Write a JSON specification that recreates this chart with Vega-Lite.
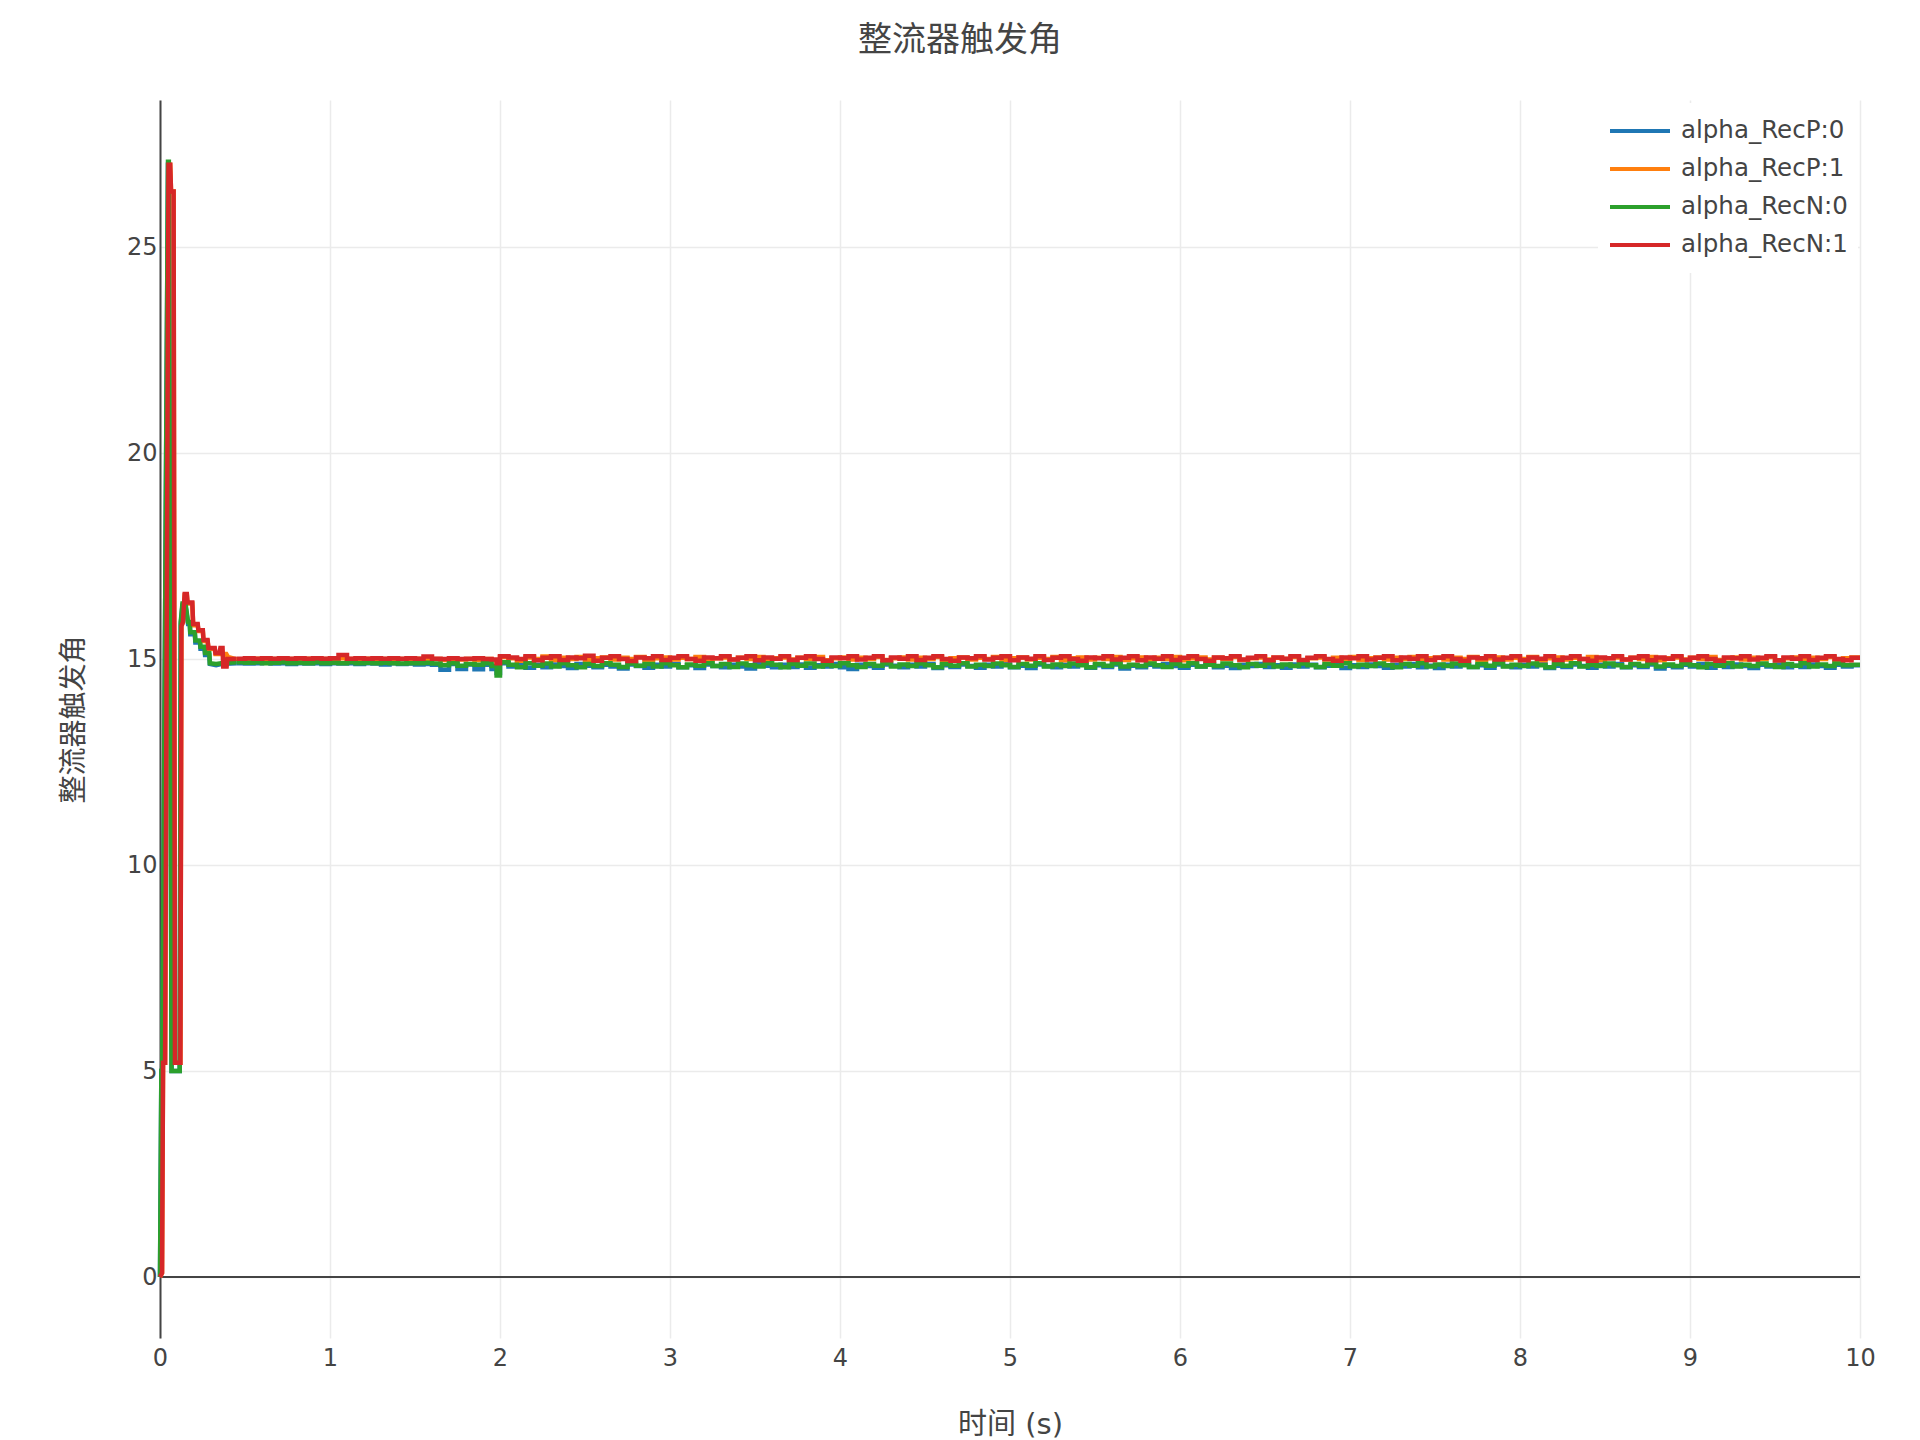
{
"$schema": "https://vega.github.io/schema/vega-lite/v6.json",
"width": 1700, "height": 1238,
"autosize": {"type": "none"},
"padding": {"left": 160, "top": 100, "right": 60, "bottom": 102},
"background": "white",
"title": {"text": "整流器触发角", "font": "Noto Sans CJK SC", "fontSize": 34, "fontWeight": "normal", "color": "#444", "anchor": "middle", "frame": "group", "dx": -50, "offset": 42},
"config": {"view": {"stroke": null}},
"layer": [
{"data": {"values": [{"z": 0}]},
 "mark": {"type": "rule", "color": "#444", "strokeWidth": 2},
 "encoding": {"y": {"field": "z", "type": "quantitative"}}},
{"encoding": {
  "x": {"field": "t", "type": "quantitative", "scale": {"domain": [0, 10], "nice": false},
        "axis": {"values": [0,1,2,3,4,5,6,7,8,9,10], "grid": true, "gridColor": "#ebebeb", "gridWidth": 1.5, "domain": false, "ticks": false, "labelFlush": false, "labelOverlap": false, "labelFont": "DejaVu Sans", "labelFontSize": 24, "labelColor": "#444", "labelPadding": 8, "title": "时间 (s)", "titleFont": "DejaVu Sans, Noto Sans CJK SC", "titleFontSize": 29, "titleFontWeight": "normal", "titleColor": "#444", "titlePadding": 40}},
  "y": {"field": "v", "type": "quantitative", "scale": {"domain": [-1.48, 28.57], "nice": false, "zero": false},
        "axis": {"values": [0,5,10,15,20,25], "grid": true, "gridColor": "#ebebeb", "gridWidth": 1.5, "domain": true, "domainColor": "#444", "domainWidth": 2, "ticks": false, "labelFont": "DejaVu Sans", "labelFontSize": 24, "labelColor": "#444", "labelPadding": 3, "title": "整流器触发角", "titleFont": "Noto Sans CJK SC", "titleFontSize": 28, "titleFontWeight": "normal", "titleColor": "#444", "titlePadding": 38}},
  "color": {"field": "series", "type": "nominal", "scale": {"domain": ["P0", "P1", "N0", "N1"], "range": ["#1f77b4", "#ff7f0e", "#2ca02c", "#d62728"]},
        "legend": {"orient": "none", "legendX": 1438, "legendY": 3, "title": null, "fillColor": "white", "padding": 10, "symbolType": "stroke", "symbolSize": 3600, "symbolStrokeWidth": 4, "labelFont": "DejaVu Sans", "labelFontSize": 24.5, "labelColor": "#444", "labelOffset": 9, "labelLimit": 400, "clipHeight": 36, "rowPadding": 2, "labelExpr": "'alpha_Rec' + slice(datum.label, 0, 1) + ':' + slice(datum.label, 1)"}}
 },
 "layer": [
 {"data": {"values": [
{"t":0,"P0":0,"P1":0,"N0":0,"N1":0},
{"t":0.008,"P0":5,"N0":5},
{"t":0.012,"P1":0.1,"N1":0.1},
{"t":0.013,"P0":5,"N0":5},
{"t":0.018,"P1":5.2,"N1":5.2},
{"t":0.03,"P1":5.2,"N1":5.2},
{"t":0.047,"P0":27.0,"N0":27.07},
{"t":0.05,"P1":27.0,"N1":27.0},
{"t":0.052,"P0":27.0,"N0":27.07},
{"t":0.06,"P1":27.0,"N1":27.0},
{"t":0.065,"P1":26.35,"N1":26.35},
{"t":0.068,"P0":5,"N0":5},
{"t":0.08,"P1":26.35,"N1":26.35},
{"t":0.088,"P1":5.2,"N1":5.2},
{"t":0.116,"P0":5,"N0":5},
{"t":0.12,"P1":5.2,"N1":5.2},
{"t":0.122,"P0":15.85,"N0":15.9},
{"t":0.126,"P1":15.8,"N1":15.8},
{"t":0.132,"P0":16.3,"N0":16.35},
{"t":0.135,"P1":15.9,"N1":15.9},
{"t":0.145,"P1":16.55,"N1":16.58},
{"t":0.15,"P0":16.3,"N0":16.35},
{"t":0.158,"P1":16.55,"N1":16.58},
{"t":0.162,"P1":16.35,"N1":16.37},
{"t":0.165,"P0":15.85,"N0":15.9},
{"t":0.175,"P0":15.85,"N0":15.9},
{"t":0.178,"P0":15.6,"N0":15.65},
{"t":0.19,"P0":15.6,"P1":16.35,"N0":15.65,"N1":16.37},
{"t":0.195,"P1":15.82,"N1":15.85},
{"t":0.205,"P0":15.6,"N0":15.65},
{"t":0.208,"P0":15.4,"N0":15.45},
{"t":0.222,"P1":15.82,"N1":15.85},
{"t":0.226,"P1":15.68,"N1":15.7},
{"t":0.235,"P0":15.4,"N0":15.45},
{"t":0.238,"P0":15.25,"N0":15.3},
{"t":0.252,"P1":15.68,"N1":15.7},
{"t":0.256,"P1":15.44,"N1":15.46},
{"t":0.262,"P0":15.25,"N0":15.3},
{"t":0.265,"P0":15.1,"N0":15.15},
{"t":0.28,"P1":15.44,"N1":15.46},
{"t":0.285,"P1":15.25,"N1":15.27},
{"t":0.29,"P0":15.1,"N0":15.15},
{"t":0.293,"P0":14.88,"N0":14.9},
{"t":0.322,"P1":15.25,"N1":15.27},
{"t":0.326,"P1":15.12,"N1":15.15},
{"t":0.33,"P0":14.85,"N0":14.88},
{"t":0.35,"N1":15.15},
{"t":0.355,"N1":15.27},
{"t":0.36,"P0":14.88,"N0":14.9},
{"t":0.368,"N1":15.27},
{"t":0.37,"P1":15.12},
{"t":0.372,"N1":14.82},
{"t":0.39,"P1":15.12},
{"t":0.392,"N1":14.82},
{"t":0.396,"N1":15.0},
{"t":0.4,"P1":15.05},
{"t":0.42,"N1":15.0},
{"t":0.45,"P0":14.9,"P1":14.99,"N0":14.92,"N1":15.01}
 ]},
  "transform": [{"fold": ["P0", "P1", "N0", "N1"], "as": ["series", "v"]}, {"filter": "isValid(datum.v)"}],
  "mark": {"type": "line", "strokeWidth": 4.5}},
 {"data": {"values": [
{"t":0.45,"P0":14.9,"P1":14.99,"N0":14.92,"N1":15.01},
{"t":0.5,"P0":14.89,"P1":15.0,"N0":14.91,"N1":15.02},
{"t":0.55,"P0":14.9,"P1":15.01,"N0":14.92,"N1":15.01},
{"t":0.6,"P0":14.91,"P1":15.0,"N0":14.9,"N1":15.02},
{"t":0.65,"P0":14.89,"P1":15.0,"N0":14.91,"N1":15.01},
{"t":0.7,"P0":14.9,"P1":15.01,"N0":14.92,"N1":15.02},
{"t":0.75,"P0":14.88,"P1":15.0,"N0":14.9,"N1":15.01},
{"t":0.8,"P0":14.9,"P1":15.0,"N0":14.91,"N1":15.02},
{"t":0.85,"P0":14.89,"P1":15.01,"N0":14.9,"N1":15.01},
{"t":0.9,"P0":14.9,"P1":15.0,"N0":14.92,"N1":15.02},
{"t":0.95,"P0":14.88,"P1":15.0,"N0":14.9,"N1":15.01},
{"t":1.0,"P0":14.9,"P1":15.01,"N0":14.91,"N1":15.02},
{"t":1.05,"P0":14.89,"P1":15.02,"N0":14.9,"N1":15.1},
{"t":1.1,"P0":14.9,"P1":15.0,"N0":14.92,"N1":15.01},
{"t":1.15,"P0":14.88,"P1":15.0,"N0":14.9,"N1":15.02},
{"t":1.2,"P0":14.9,"P1":15.01,"N0":14.91,"N1":15.01},
{"t":1.25,"P0":14.89,"P1":15.0,"N0":14.9,"N1":15.02},
{"t":1.3,"P0":14.87,"P1":15.0,"N0":14.91,"N1":15.01},
{"t":1.35,"P0":14.9,"P1":15.01,"N0":14.9,"N1":15.02},
{"t":1.4,"P0":14.88,"P1":15.0,"N0":14.89,"N1":15.01},
{"t":1.45,"P0":14.89,"P1":15.0,"N0":14.9,"N1":15.02},
{"t":1.5,"P0":14.87,"P1":15.01,"N0":14.9,"N1":15.01},
{"t":1.55,"P0":14.88,"P1":15.0,"N0":14.91,"N1":15.06},
{"t":1.6,"P0":14.86,"P1":15.0,"N0":14.89,"N1":15.01},
{"t":1.65,"P0":14.74,"P1":14.98,"N0":14.85,"N1":15.0},
{"t":1.7,"P0":14.88,"P1":15.0,"N0":14.9,"N1":15.02},
{"t":1.75,"P0":14.76,"P1":14.99,"N0":14.84,"N1":15.0},
{"t":1.8,"P0":14.87,"P1":15.0,"N0":14.88,"N1":15.01},
{"t":1.85,"P0":14.75,"P1":14.98,"N0":14.86,"N1":15.02},
{"t":1.9,"P0":14.86,"P1":15.0,"N0":14.9,"N1":15.0},
{"t":1.95,"P0":14.76,"P1":14.97,"N0":14.83,"N1":14.99},
{"t":1.98,"P0":14.66,"P1":14.92,"N0":14.6,"N1":14.9},
{"t":2.0,"P0":14.9,"P1":15.05,"N0":14.92,"N1":15.07},
{"t":2.05,"P0":14.82,"P1":15.02,"N0":14.86,"N1":15.04},
{"t":2.1,"P0":14.88,"P1":14.96,"N0":14.8,"N1":15.0},
{"t":2.15,"P0":14.79,"P1":15.04,"N0":14.9,"N1":15.07},
{"t":2.2,"P0":14.86,"P1":15.0,"N0":14.84,"N1":14.97},
{"t":2.25,"P0":14.8,"P1":15.06,"N0":14.89,"N1":15.03},
{"t":2.3,"P0":14.87,"P1":14.98,"N0":14.82,"N1":15.07},
{"t":2.35,"P0":14.83,"P1":15.03,"N0":14.9,"N1":14.98},
{"t":2.4,"P0":14.78,"P1":15.0,"N0":14.85,"N1":15.04},
{"t":2.45,"P0":14.88,"P1":15.05,"N0":14.8,"N1":15.02},
{"t":2.5,"P0":14.84,"P1":14.97,"N0":14.88,"N1":15.08},
{"t":2.55,"P0":14.8,"P1":15.02,"N0":14.83,"N1":14.96},
{"t":2.6,"P0":14.86,"P1":15.04,"N0":14.9,"N1":15.03},
{"t":2.65,"P0":14.82,"P1":14.99,"N0":14.86,"N1":15.07},
{"t":2.7,"P0":14.77,"P1":15.03,"N0":14.81,"N1":15.0},
{"t":2.75,"P0":14.87,"P1":15.0,"N0":14.89,"N1":14.95},
{"t":2.8,"P0":14.83,"P1":15.05,"N0":14.84,"N1":15.04},
{"t":2.85,"P0":14.79,"P1":14.98,"N0":14.88,"N1":15.02},
{"t":2.9,"P0":14.86,"P1":15.02,"N0":14.82,"N1":15.07},
{"t":2.95,"P0":14.82,"P1":15.04,"N0":14.9,"N1":14.98},
{"t":3.0,"P0":14.88,"P1":14.99,"N0":14.85,"N1":15.03},
{"t":3.05,"P0":14.8,"P1":15.03,"N0":14.8,"N1":15.07},
{"t":3.1,"P0":14.85,"P1":15.0,"N0":14.87,"N1":15.0},
{"t":3.15,"P0":14.78,"P1":15.05,"N0":14.84,"N1":14.96},
{"t":3.2,"P0":14.87,"P1":14.97,"N0":14.9,"N1":15.04},
{"t":3.25,"P0":14.83,"P1":15.02,"N0":14.83,"N1":15.02},
{"t":3.3,"P0":14.8,"P1":15.04,"N0":14.88,"N1":15.07},
{"t":3.35,"P0":14.86,"P1":14.99,"N0":14.81,"N1":14.99},
{"t":3.4,"P0":14.82,"P1":15.03,"N0":14.89,"N1":15.03},
{"t":3.45,"P0":14.77,"P1":15.0,"N0":14.85,"N1":15.07},
{"t":3.5,"P0":14.88,"P1":15.05,"N0":14.82,"N1":14.97},
{"t":3.55,"P0":14.84,"P1":14.98,"N0":14.9,"N1":15.04},
{"t":3.6,"P0":14.8,"P1":15.02,"N0":14.86,"N1":15.01},
{"t":3.65,"P0":14.86,"P1":15.04,"N0":14.8,"N1":15.07},
{"t":3.7,"P0":14.81,"P1":14.99,"N0":14.88,"N1":14.98},
{"t":3.75,"P0":14.87,"P1":15.03,"N0":14.84,"N1":15.03},
{"t":3.8,"P0":14.79,"P1":15.0,"N0":14.89,"N1":15.07},
{"t":3.85,"P0":14.85,"P1":15.05,"N0":14.82,"N1":15.0},
{"t":3.9,"P0":14.82,"P1":14.97,"N0":14.87,"N1":14.96},
{"t":3.95,"P0":14.88,"P1":15.02,"N0":14.83,"N1":15.04},
{"t":4.0,"P0":14.8,"P1":15.04,"N0":14.9,"N1":15.02},
{"t":4.05,"P0":14.76,"P1":14.99,"N0":14.85,"N1":15.07},
{"t":4.1,"P0":14.86,"P1":15.03,"N0":14.81,"N1":14.99},
{"t":4.15,"P0":14.83,"P1":15.0,"N0":14.88,"N1":15.03},
{"t":4.2,"P0":14.79,"P1":15.05,"N0":14.84,"N1":15.07},
{"t":4.25,"P0":14.87,"P1":14.98,"N0":14.9,"N1":14.97},
{"t":4.3,"P0":14.84,"P1":15.02,"N0":14.82,"N1":15.04},
{"t":4.35,"P0":14.8,"P1":15.04,"N0":14.87,"N1":15.01},
{"t":4.4,"P0":14.86,"P1":14.99,"N0":14.83,"N1":15.07},
{"t":4.45,"P0":14.82,"P1":15.03,"N0":14.89,"N1":14.98},
{"t":4.5,"P0":14.88,"P1":15.0,"N0":14.85,"N1":15.03},
{"t":4.55,"P0":14.78,"P1":15.05,"N0":14.8,"N1":15.07},
{"t":4.6,"P0":14.85,"P1":14.97,"N0":14.88,"N1":15.0},
{"t":4.65,"P0":14.81,"P1":15.02,"N0":14.84,"N1":14.96},
{"t":4.7,"P0":14.87,"P1":15.04,"N0":14.9,"N1":15.04},
{"t":4.75,"P0":14.83,"P1":14.99,"N0":14.82,"N1":15.02},
{"t":4.8,"P0":14.79,"P1":15.03,"N0":14.86,"N1":15.07},
{"t":4.85,"P0":14.86,"P1":15.0,"N0":14.83,"N1":14.99},
{"t":4.9,"P0":14.82,"P1":15.05,"N0":14.89,"N1":15.03},
{"t":4.95,"P0":14.88,"P1":14.98,"N0":14.85,"N1":15.07},
{"t":5.0,"P0":14.8,"P1":15.02,"N0":14.81,"N1":14.97},
{"t":5.05,"P0":14.84,"P1":15.04,"N0":14.88,"N1":15.04},
{"t":5.1,"P0":14.78,"P1":14.99,"N0":14.84,"N1":15.01},
{"t":5.15,"P0":14.87,"P1":15.03,"N0":14.9,"N1":15.07},
{"t":5.2,"P0":14.83,"P1":15.0,"N0":14.82,"N1":14.98},
{"t":5.25,"P0":14.8,"P1":15.05,"N0":14.87,"N1":15.03},
{"t":5.3,"P0":14.86,"P1":14.97,"N0":14.83,"N1":15.07},
{"t":5.35,"P0":14.82,"P1":15.02,"N0":14.89,"N1":15.0},
{"t":5.4,"P0":14.88,"P1":15.04,"N0":14.85,"N1":14.96},
{"t":5.45,"P0":14.79,"P1":14.99,"N0":14.8,"N1":15.04},
{"t":5.5,"P0":14.85,"P1":15.03,"N0":14.88,"N1":15.02},
{"t":5.55,"P0":14.81,"P1":15.0,"N0":14.84,"N1":15.07},
{"t":5.6,"P0":14.87,"P1":15.05,"N0":14.9,"N1":14.99},
{"t":5.65,"P0":14.77,"P1":14.98,"N0":14.82,"N1":15.03},
{"t":5.7,"P0":14.84,"P1":15.02,"N0":14.86,"N1":15.07},
{"t":5.75,"P0":14.8,"P1":15.04,"N0":14.83,"N1":14.97},
{"t":5.8,"P0":14.86,"P1":14.99,"N0":14.89,"N1":15.04},
{"t":5.85,"P0":14.82,"P1":15.03,"N0":14.85,"N1":15.01},
{"t":5.9,"P0":14.88,"P1":15.0,"N0":14.81,"N1":15.07},
{"t":5.95,"P0":14.83,"P1":15.05,"N0":14.88,"N1":14.98},
{"t":6.0,"P0":14.79,"P1":14.97,"N0":14.84,"N1":15.03},
{"t":6.05,"P0":14.86,"P1":15.02,"N0":14.9,"N1":15.07},
{"t":6.1,"P0":14.82,"P1":15.04,"N0":14.82,"N1":15.0},
{"t":6.15,"P0":14.87,"P1":14.99,"N0":14.86,"N1":14.96},
{"t":6.2,"P0":14.8,"P1":15.03,"N0":14.83,"N1":15.04},
{"t":6.25,"P0":14.84,"P1":15.0,"N0":14.89,"N1":15.02},
{"t":6.3,"P0":14.78,"P1":15.05,"N0":14.85,"N1":15.07},
{"t":6.35,"P0":14.86,"P1":14.98,"N0":14.8,"N1":14.99},
{"t":6.4,"P0":14.83,"P1":15.02,"N0":14.88,"N1":15.03},
{"t":6.45,"P0":14.88,"P1":15.04,"N0":14.84,"N1":15.07},
{"t":6.5,"P0":14.81,"P1":14.99,"N0":14.9,"N1":14.97},
{"t":6.55,"P0":14.85,"P1":15.03,"N0":14.82,"N1":15.04},
{"t":6.6,"P0":14.79,"P1":15.0,"N0":14.87,"N1":15.01},
{"t":6.65,"P0":14.87,"P1":15.05,"N0":14.83,"N1":15.07},
{"t":6.7,"P0":14.82,"P1":14.97,"N0":14.89,"N1":14.98},
{"t":6.75,"P0":14.86,"P1":15.02,"N0":14.85,"N1":15.03},
{"t":6.8,"P0":14.8,"P1":15.04,"N0":14.81,"N1":15.07},
{"t":6.85,"P0":14.84,"P1":14.99,"N0":14.88,"N1":15.0},
{"t":6.9,"P0":14.88,"P1":15.03,"N0":14.84,"N1":14.96},
{"t":6.95,"P0":14.78,"P1":15.0,"N0":14.9,"N1":15.04},
{"t":7.0,"P0":14.85,"P1":15.05,"N0":14.82,"N1":15.02},
{"t":7.05,"P0":14.81,"P1":14.98,"N0":14.86,"N1":15.07},
{"t":7.1,"P0":14.87,"P1":15.02,"N0":14.83,"N1":14.99},
{"t":7.15,"P0":14.83,"P1":15.04,"N0":14.89,"N1":15.03},
{"t":7.2,"P0":14.79,"P1":14.99,"N0":14.85,"N1":15.07},
{"t":7.25,"P0":14.86,"P1":15.03,"N0":14.8,"N1":14.97},
{"t":7.3,"P0":14.82,"P1":15.0,"N0":14.88,"N1":15.04},
{"t":7.35,"P0":14.88,"P1":15.05,"N0":14.84,"N1":15.01},
{"t":7.4,"P0":14.8,"P1":14.97,"N0":14.9,"N1":15.07},
{"t":7.45,"P0":14.84,"P1":15.02,"N0":14.82,"N1":14.98},
{"t":7.5,"P0":14.78,"P1":15.04,"N0":14.87,"N1":15.03},
{"t":7.55,"P0":14.86,"P1":14.99,"N0":14.83,"N1":15.07},
{"t":7.6,"P0":14.82,"P1":15.03,"N0":14.89,"N1":15.0},
{"t":7.65,"P0":14.87,"P1":15.0,"N0":14.85,"N1":14.96},
{"t":7.7,"P0":14.81,"P1":15.05,"N0":14.81,"N1":15.04},
{"t":7.75,"P0":14.85,"P1":14.98,"N0":14.88,"N1":15.02},
{"t":7.8,"P0":14.79,"P1":15.02,"N0":14.84,"N1":15.07},
{"t":7.85,"P0":14.87,"P1":15.04,"N0":14.9,"N1":14.99},
{"t":7.9,"P0":14.83,"P1":14.99,"N0":14.82,"N1":15.03},
{"t":7.95,"P0":14.8,"P1":15.03,"N0":14.86,"N1":15.07},
{"t":8.0,"P0":14.86,"P1":15.0,"N0":14.83,"N1":14.97},
{"t":8.05,"P0":14.82,"P1":15.05,"N0":14.89,"N1":15.04},
{"t":8.1,"P0":14.88,"P1":14.97,"N0":14.85,"N1":15.01},
{"t":8.15,"P0":14.78,"P1":15.02,"N0":14.8,"N1":15.07},
{"t":8.2,"P0":14.84,"P1":15.04,"N0":14.88,"N1":14.98},
{"t":8.25,"P0":14.81,"P1":14.99,"N0":14.84,"N1":15.03},
{"t":8.3,"P0":14.87,"P1":15.03,"N0":14.9,"N1":15.07},
{"t":8.35,"P0":14.83,"P1":15.0,"N0":14.82,"N1":15.0},
{"t":8.4,"P0":14.79,"P1":15.05,"N0":14.86,"N1":14.96},
{"t":8.45,"P0":14.86,"P1":14.98,"N0":14.83,"N1":15.04},
{"t":8.5,"P0":14.82,"P1":15.02,"N0":14.89,"N1":15.02},
{"t":8.55,"P0":14.88,"P1":15.04,"N0":14.85,"N1":15.07},
{"t":8.6,"P0":14.8,"P1":14.99,"N0":14.81,"N1":14.99},
{"t":8.65,"P0":14.85,"P1":15.03,"N0":14.88,"N1":15.03},
{"t":8.7,"P0":14.81,"P1":15.0,"N0":14.84,"N1":15.07},
{"t":8.75,"P0":14.87,"P1":15.05,"N0":14.9,"N1":14.97},
{"t":8.8,"P0":14.77,"P1":14.97,"N0":14.82,"N1":15.04},
{"t":8.85,"P0":14.84,"P1":15.02,"N0":14.87,"N1":15.01},
{"t":8.9,"P0":14.8,"P1":15.04,"N0":14.83,"N1":15.07},
{"t":8.95,"P0":14.86,"P1":14.99,"N0":14.89,"N1":14.98},
{"t":9.0,"P0":14.82,"P1":15.03,"N0":14.85,"N1":15.03},
{"t":9.05,"P0":14.88,"P1":15.0,"N0":14.8,"N1":15.07},
{"t":9.1,"P0":14.79,"P1":15.05,"N0":14.88,"N1":15.0},
{"t":9.15,"P0":14.85,"P1":14.98,"N0":14.84,"N1":14.96},
{"t":9.2,"P0":14.81,"P1":15.02,"N0":14.9,"N1":15.04},
{"t":9.25,"P0":14.87,"P1":15.04,"N0":14.82,"N1":15.02},
{"t":9.3,"P0":14.83,"P1":14.99,"N0":14.86,"N1":15.07},
{"t":9.35,"P0":14.78,"P1":15.03,"N0":14.83,"N1":14.99},
{"t":9.4,"P0":14.86,"P1":15.0,"N0":14.89,"N1":15.03},
{"t":9.45,"P0":14.82,"P1":15.05,"N0":14.85,"N1":15.07},
{"t":9.5,"P0":14.88,"P1":14.97,"N0":14.81,"N1":14.97},
{"t":9.55,"P0":14.8,"P1":15.02,"N0":14.88,"N1":15.04},
{"t":9.6,"P0":14.84,"P1":15.04,"N0":14.84,"N1":15.01},
{"t":9.65,"P0":14.81,"P1":14.99,"N0":14.9,"N1":15.07},
{"t":9.7,"P0":14.87,"P1":15.03,"N0":14.82,"N1":14.98},
{"t":9.75,"P0":14.83,"P1":15.0,"N0":14.87,"N1":15.03},
{"t":9.8,"P0":14.79,"P1":15.05,"N0":14.83,"N1":15.07},
{"t":9.85,"P0":14.86,"P1":14.98,"N0":14.89,"N1":15.0},
{"t":9.9,"P0":14.82,"P1":15.02,"N0":14.85,"N1":14.97},
{"t":9.95,"P0":14.85,"P1":15.04,"N0":14.86,"N1":15.03},
{"t":10.0,"P0":14.85,"P1":15.04,"N0":14.86,"N1":15.03}
 ]},
  "transform": [{"fold": ["P0", "P1", "N0", "N1"], "as": ["series", "v"]}, {"filter": "isValid(datum.v)"}],
  "mark": {"type": "line", "strokeWidth": 4.5, "interpolate": "step-after"}}
 ]}
]
}
